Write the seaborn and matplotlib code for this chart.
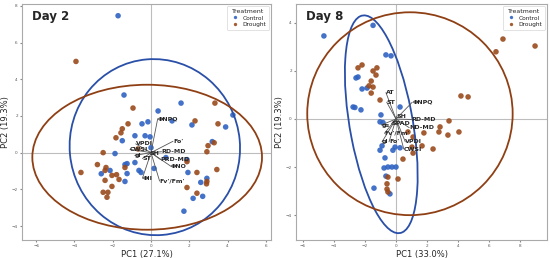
import numpy as np
import pandas as pd
import matplotlib
matplotlib.use("Agg")
import matplotlib.pyplot as plt
from matplotlib.patches import Ellipse
import seaborn as sns

# ---------------- data ----------------
treatments = ["Control", "Drought"]
palette = {"Control": "#2f63c2", "Drought": "#9a4a1c"}

# Day 2 scores
d2_ctrl_x = [-1.72, -1.41, 1.57, 4.28, 0.37, 3.9, 2.14, -0.16, -0.47, 1.1, -0.84, -0.31, -0.05,
             -1.5, 0.0, -1.88, -0.84, -1.25, -2.14, -1.25, -0.63, 0.16, -1.36, -1.36, -0.52,
             1.88, 1.93, 2.6, 2.92, 2.2, 2.7, 1.72, 3.2, 0.78, -2.6]
d2_ctrl_y = [7.46, 3.14, 2.7, 2.05, 2.27, 1.4, 1.51, 1.68, 1.57, 1.73, 0.92, 0.92, 0.86,
             0.65, 0.27, -0.05, -0.54, -0.6, -0.97, -1.14, -0.97, -0.86, -1.57, -0.65, -1.08,
             -0.38, -1.08, -1.62, -1.4, -2.49, -2.38, -3.19, 0.6, -0.27, -1.15]
d2_drou_x = [-3.92, -0.94, 3.34, 3.5, 2.3, -1.2, -1.5, -1.57, -1.83, -2.5, -0.68, -2.8, -1.36,
             -2.4, -2.04, -2.4, -1.67, -2.04, -2.25, -2.5, -2.3, -3.66, -2.35, 1.88, 2.4,
             1.88, 2.92, 3.44, 2.4, 2.98, 2.92, 3.3, -1.8, 2.9]
d2_drou_y = [4.97, 2.43, 2.7, 1.57, 1.73, 1.57, 1.3, 1.08, 0.81, 0.0, 0.2, -0.65, -0.81,
             -0.97, -1.24, -1.51, -1.46, -1.84, -2.16, -2.16, -2.43, -1.08, -0.81, -0.49, -1.08,
             -1.9, -1.57, -0.92, -2.21, 0.38, 0.05, 0.54, -1.2, -1.7]

# Day 8 scores
d8_ctrl_x = [-4.65, -1.48, -0.65, -0.32, -2.58, -2.45, -2.19, -1.87, -2.77, -2.65, -2.26, 0.26,
             -0.97, -1.03, -0.84, -0.9, -0.06, 0.26, -0.71, -0.77, -0.52, -0.26, 0.0, -0.65,
             -1.42, -0.39, -1.03, -0.2]
d8_ctrl_y = [3.46, 3.9, 2.67, 2.63, 1.71, 1.75, 1.25, 1.29, 0.5, 0.48, 0.38, 0.5,
             0.17, -0.12, -0.15, -1.12, -1.17, -1.2, -1.62, -2.04, -2.0, -2.0, -2.0, -2.38,
             -2.88, -3.12, -1.3, -1.3]
d8_drou_x = [-2.45, -2.19, -1.48, -1.23, -1.29, -1.6, -1.74, -1.48, -1.6, -1.03, 6.45, 6.9, 8.97,
             4.19, 4.65, 3.42, 0.77, 1.8, 2.77, 3.35, 4.06, 1.1, 1.68, 2.39, 1.1, 0.45, -0.52,
             0.13, -0.58, -0.52, -0.58, 1.03, 2.84]
d8_drou_y = [2.13, 2.25, 2.0, 2.13, 1.83, 1.58, 1.38, 1.33, 1.08, 0.79, 2.8, 3.33, 3.04,
             0.96, 0.92, -0.08, -0.54, -0.58, -0.54, -0.67, -0.54, -0.75, -1.12, -1.25, -1.42,
             -1.67, -2.42, -2.5, -2.92, -3.04, -2.7, -1.17, -0.33]

# loadings (arrow tips)
d2_load_names = ["\u03a6NPQ", "Fo'", "VPDl", "CWSI", "RD-MD", "gl", "ST", "SH",
                 "PRD-MD", "\u03a6NO", "\u03a6II", "Fv'/Fm'"]
d2_load_x = [0.35, 1.15, -0.8, -1.1, 0.55, -0.85, -0.45, -0.1, 0.5, 1.05, -0.45, 0.45]
d2_load_y = [1.85, 0.62, 0.48, 0.18, 0.05, -0.15, -0.32, -0.05, -0.38, -0.75, -1.4, -1.55]

d8_load_names = ["AT", "ST", "\u03a6NPQ", "SH", "RD-MD", "ND-MD", "SPAD", "gs",
                 "Fv'/Fm'", "gl", "Fo'", "VPDl", "CWSI"]
d8_load_x = [-0.65, -0.6, 1.05, 0.05, 1.0, 0.85, -0.3, -0.95, -0.75, -0.9, -0.45, 0.6, 0.5]
d8_load_y = [1.1, 0.7, 0.7, 0.12, -0.02, -0.36, -0.2, -0.25, -0.6, -0.95, -0.95, -0.95, -1.25]

# confidence ellipses: (cx, cy, width, height, angle)
d2_ell = {"Control": (0.2, 0.3, 9.6, 8.9, 95), "Drought": (-0.2, -0.25, 12.0, 7.9, 0)}
d8_ell = {"Control": (-0.95, -0.22, 9.4, 4.0, 106.8), "Drought": (0.9, 0.22, 13.25, 8.45, 0)}
ell_colors = {"Control": "#2a4fa8", "Drought": "#8f3f14"}


def make_df(cx, cy, dx, dy):
    return pd.DataFrame({
        "PC1": cx + dx,
        "PC2": cy + dy,
        "Treatment": ["Control"] * len(cx) + ["Drought"] * len(dx),
    })


sns.set_style("white")
plt.rcParams["font.family"] = ["DejaVu Sans"]

fig = plt.figure(figsize=(5.5, 2.58), dpi=100)
ax1 = fig.add_axes([22 / 550, 1 - 240 / 258, 249 / 550, 236 / 258])
ax2 = fig.add_axes([296 / 550, 1 - 240 / 258, 251 / 550, 236 / 258])

panels = [
    (ax1, make_df(d2_ctrl_x, d2_ctrl_y, d2_drou_x, d2_drou_y), d2_ell,
     d2_load_names, d2_load_x, d2_load_y, "Day 2", "PC1 (27.1%)", (-6.74, 6.27), (-4.76, 8.1),
     [-6, -4, -2, 0, 2, 4, 6], [-4, -2, 0, 2, 4, 6, 8]),
    (ax2, make_df(d8_ctrl_x, d8_ctrl_y, d8_drou_x, d8_drou_y), d8_ell,
     d8_load_names, d8_load_x, d8_load_y, "Day 8", "PC1 (33.0%)", (-6.45, 9.74), (-5.04, 4.79),
     [-6, -4, -2, 0, 2, 4, 6, 8], [-4, -2, 0, 2, 4]),
]

for ax, df, ell, names, lx, ly, title, xlab, xlim, ylim, xt, yt in panels:
    ax.axhline(0, color="#bdbdbd", lw=0.8, zorder=0)
    ax.axvline(0, color="#bdbdbd", lw=0.8, zorder=0)
    sns.scatterplot(data=df, x="PC1", y="PC2", hue="Treatment", hue_order=treatments,
                    palette=palette, s=16, edgecolor="none", alpha=0.9, ax=ax, zorder=2)
    for t in treatments:
        cx, cy, w, h, a = ell[t]
        ax.add_patch(Ellipse((cx, cy), w, h, angle=a, fill=False,
                             edgecolor=ell_colors[t], lw=1.3, zorder=3))
    for n, x, y in zip(names, lx, ly):
        ax.plot([0, x], [0, y], color="#555555", lw=0.6, zorder=4)
        ax.text(x, y, n, fontsize=4.5, fontweight="bold", ha="left", va="center", zorder=5)
    ax.set_xlim(*xlim)
    ax.set_ylim(*ylim)
    ax.set_xticks(xt)
    ax.set_yticks(yt)
    ax.tick_params(labelsize=3, length=1.5, pad=1.5, color="#888888", labelcolor="#555555")
    ax.tick_params(axis="both", which="major", bottom=True, left=True)
    ax.set_xlabel(xlab, fontsize=6, labelpad=1.5)
    ax.set_ylabel("PC2 (19.3%)", fontsize=6, labelpad=1.5)
    for sp in ax.spines.values():
        sp.set_color("#aaaaaa")
        sp.set_linewidth(0.8)
    ax.text(0.04, 0.975, title, transform=ax.transAxes, fontsize=8.5, fontweight="bold",
            ha="left", va="top")
    leg = ax.legend(title="Treatment", loc="upper right", fontsize=4.2, title_fontsize=4.5,
                    markerscale=0.6, frameon=True, borderpad=0.4, labelspacing=0.3,
                    handletextpad=0.3, borderaxespad=0.4)
    leg.get_frame().set_linewidth(0.5)

fig.savefig("out.png", dpi=100)
